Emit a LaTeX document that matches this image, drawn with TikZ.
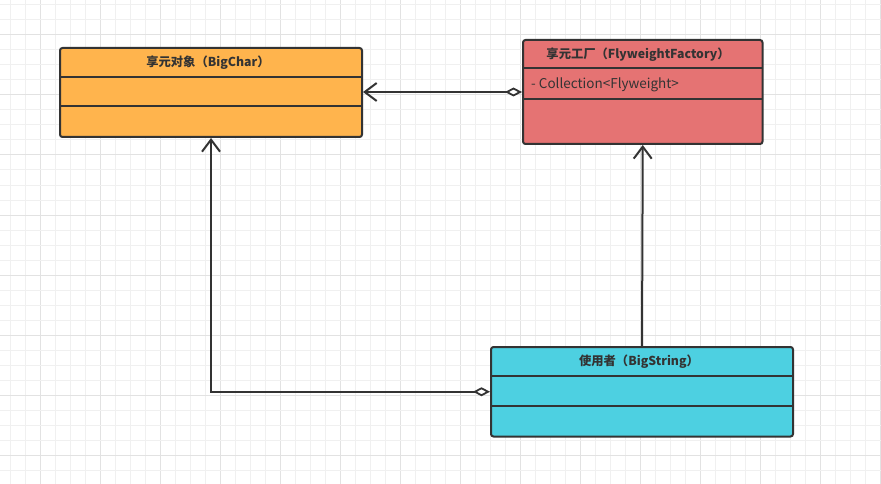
\documentclass[tikz,border=0pt]{standalone}
\usepackage{fontspec}
\setmainfont{Noto Sans CJK SC}
\usetikzlibrary{arrows.meta}
\definecolor{ink}{HTML}{333333}
\definecolor{gridminor}{HTML}{F0F0F0}
\definecolor{gridmajor}{HTML}{E2E2E2}
\definecolor{orangebox}{HTML}{FFB44D}
\definecolor{redbox}{HTML}{E57373}
\definecolor{cyanbox}{HTML}{4DD0E1}
\tikzset{
  classbox/.style={draw=ink, line width=2pt, rounded corners=2.5pt, anchor=north west,
    inner sep=0pt, minimum width=#1},
  divider/.style={draw=ink, line width=2pt},
  classtitle/.style={text=ink, font=\fontsize{12.3}{14}\selectfont\bfseries, inner sep=0pt},
  attr/.style={text=ink, font=\fontsize{13.5}{15}\selectfont, inner sep=0pt, anchor=west},
  link/.style={draw=ink, line width=2pt},
  opentip/.style={-{Straight Barb[length=12pt,width=18pt,line width=2pt]}},
  aggregation/.style={{Diamond[open,fill=white,length=17pt,width=9pt,line width=1.8pt]}-{Straight Barb[length=12pt,width=18pt,line width=2pt]}},
}
\begin{document}
\begin{tikzpicture}[x=1pt,y=-1pt]
  \useasboundingbox (0,0) rectangle (881,484);
  \fill[white] (0,0) rectangle (881,484);
  % background grid: thin lines every 15, heavier every 60
  \foreach \gx in {10,25,...,880} {
    \pgfmathtruncatemacro{\m}{mod(\gx-40+600,60)}
    \ifnum\m=0 \draw[gridmajor,line width=1pt] (\gx,0) -- (\gx,484);
    \else \draw[gridminor,line width=1pt] (\gx,0) -- (\gx,484); \fi
  }
  \foreach \gy in {5,20,...,484} {
    \pgfmathtruncatemacro{\m}{mod(\gy-35+600,60)}
    \ifnum\m=0 \draw[gridmajor,line width=1pt] (0,\gy) -- (881,\gy);
    \else \draw[gridminor,line width=1pt] (0,\gy) -- (881,\gy); \fi
  }

  % class BigChar
  \node[classbox=302pt, minimum height=89pt, fill=orangebox] (b1) at (59,47) {};
  \draw[divider] (59,77) -- (361,77);
  \draw[divider] (59,106.5) -- (361,106.5);
  \node[classtitle] (b1t) at (208,62.5) {享元对象（BigChar）};

  % class FlyweightFactory
  \node[classbox=239.5pt, minimum height=104pt, fill=redbox] (b2) at (522,39) {};
  \draw[divider] (522,68.5) -- (761.5,68.5);
  \draw[divider] (522,99) -- (761.5,99);
  \node[classtitle] (b2t) at (638,54.5) {享元工厂（FlyweightFactory）};
  \node[attr] (b2a) at (531,84.5) {- Collection<Flyweight>};

  % class BigString
  \node[classbox=302pt, minimum height=89.5pt, fill=cyanbox] (b3) at (490,346) {};
  \draw[divider] (490,376) -- (792,376);
  \draw[divider] (490,406) -- (792,406);
  \node[classtitle] (b3t) at (639,361.5) {使用者（BigString）};

  % relations
  \draw[link, aggregation] (b2.west) -- (b1.east |- b2.west);
  \draw[link, opentip] (b3.north) -- (b2.south);
  \draw[link, aggregation] (b3.west) -- (b1.south |- b3.west) -- (b1.south);
\end{tikzpicture}
\end{document}
